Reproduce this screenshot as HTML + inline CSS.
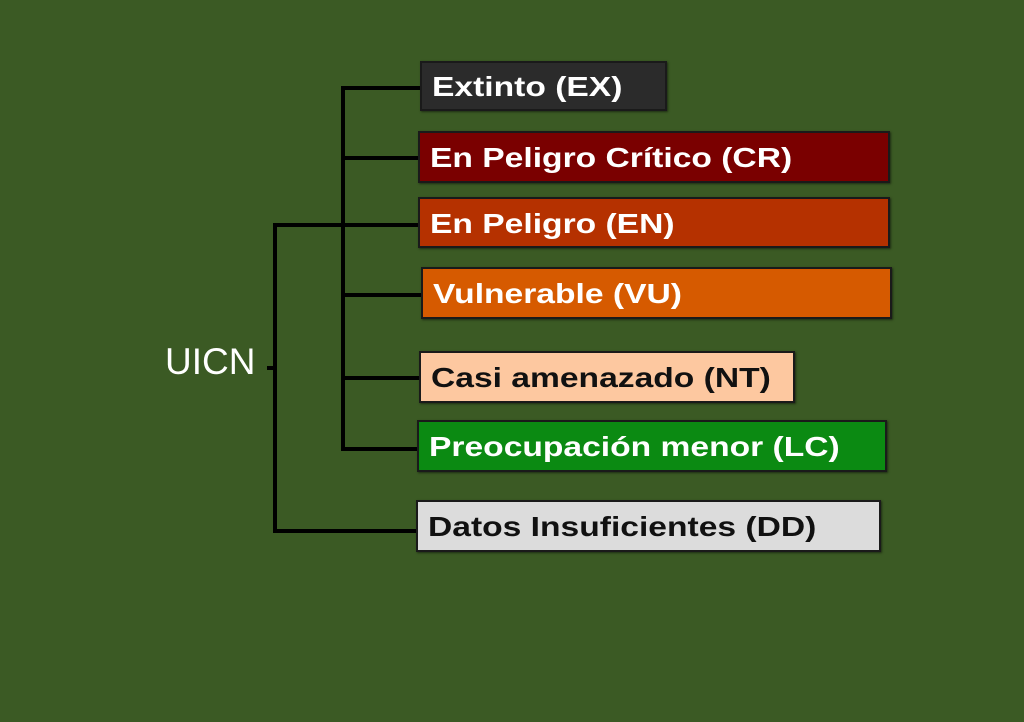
<!DOCTYPE html>
<html><head><style>
body{margin:0;width:1024px;height:722px;background:#3b5a24;position:relative;overflow:hidden;font-family:"Liberation Sans",sans-serif}
.b{position:absolute;box-sizing:border-box;border:2px solid #1a1a1a;font-weight:bold;font-size:28px;padding-left:10px;display:flex;align-items:center;box-shadow:1px 1px 2px rgba(0,0,0,.5);white-space:nowrap}
.b span{display:inline-block;transform:scaleX(1.2);transform-origin:left center;margin-top:2px}
.l{position:absolute;background:#000}
</style></head><body>
<div class="l" style="left:341px;top:86px;width:4px;height:365px"></div>
<div class="l" style="left:341px;top:86px;width:80px;height:4px"></div>
<div class="l" style="left:341px;top:156px;width:78px;height:4px"></div>
<div class="l" style="left:273px;top:223px;width:146px;height:4px"></div>
<div class="l" style="left:341px;top:293px;width:80px;height:4px"></div>
<div class="l" style="left:341px;top:376px;width:79px;height:4px"></div>
<div class="l" style="left:341px;top:447px;width:77px;height:4px"></div>
<div class="l" style="left:273px;top:223px;width:4px;height:310px"></div>
<div class="l" style="left:273px;top:529px;width:144px;height:4px"></div>
<div class="l" style="left:267px;top:366px;width:8px;height:4px"></div>
<div style="position:absolute;left:165px;top:341px;color:#fff;font-size:37px">UICN</div>
<div class="b" style="left:420px;top:61px;width:247px;height:50px;background:#2b2b2b;color:#fff"><span>Extinto (EX)</span></div>
<div class="b" style="left:418px;top:131px;width:472px;height:52px;background:#7a0000;color:#fff"><span>En Peligro Crítico (CR)</span></div>
<div class="b" style="left:418px;top:197px;width:472px;height:51px;background:#b53100;color:#fff"><span>En Peligro (EN)</span></div>
<div class="b" style="left:421px;top:267px;width:471px;height:52px;background:#d65a00;color:#fff"><span>Vulnerable (VU)</span></div>
<div class="b" style="left:419px;top:351px;width:376px;height:52px;background:#fdc8a0;color:#111"><span>Casi amenazado (NT)</span></div>
<div class="b" style="left:417px;top:420px;width:470px;height:52px;background:#0b8a12;color:#fff"><span>Preocupación menor (LC)</span></div>
<div class="b" style="left:416px;top:500px;width:465px;height:52px;background:#dcdcdc;color:#111"><span>Datos Insuficientes (DD)</span></div>
</body></html>
